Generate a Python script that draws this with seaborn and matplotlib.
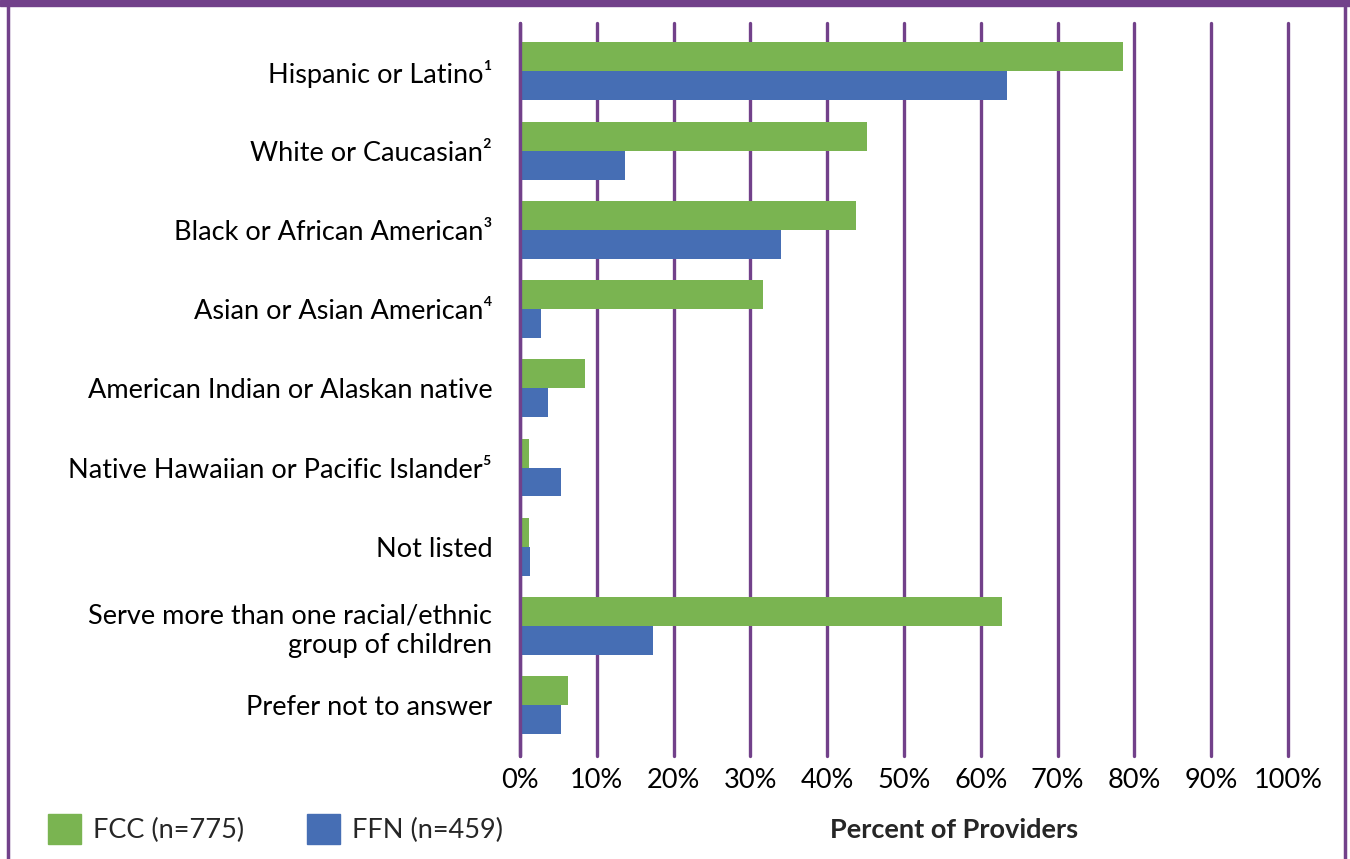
import matplotlib
matplotlib.use("Agg")
import matplotlib.pyplot as plt
import seaborn as sns
import pandas as pd
from matplotlib.lines import Line2D
from matplotlib.patches import Rectangle

categories = [
    "Hispanic or Latino¹",
    "White or Caucasian²",
    "Black or African American³",
    "Asian or Asian American⁴",
    "American Indian or Alaskan native",
    "Native Hawaiian or Pacific Islander⁵",
    "Not listed",
    "Serve more than one racial/ethnic\ngroup of children",
    "Prefer not to answer",
]
fcc_values = [78.5, 45.2, 43.7, 31.6, 8.5, 1.2, 1.2, 62.7, 6.2]
ffn_values = [63.4, 13.7, 34.0, 2.7, 3.6, 5.4, 1.3, 17.3, 5.4]
series_names = ["FCC (n=775)", "FFN (n=459)"]
tick_values = list(range(0, 101, 10))
tick_labels = [f"{v}%" for v in tick_values]

GREEN = "#7AB451"
BLUE = "#466EB4"
PURPLE = "#72418A"

df = pd.DataFrame({
    "category": categories * 2,
    "value": fcc_values + ffn_values,
    "series": [series_names[0]] * len(categories) + [series_names[1]] * len(categories),
})

sns.set_theme(style="white")
plt.rcParams["font.family"] = ["Lato", "DejaVu Sans"]

fig = plt.figure(figsize=(13.5, 8.59), dpi=100)
ax = fig.add_axes([520 / 1350, 1 - 756 / 859, 768 / 1350, 733 / 859])

sns.barplot(data=df, y="category", x="value", hue="series", orient="h",
            palette=[GREEN, BLUE], saturation=1, width=0.73, ax=ax,
            order=categories, hue_order=series_names, errorbar=None,
            linewidth=0, edgecolor="none")

ax.set_xlim(0, 100)
ax.set_ylim(8.64, -0.61)
ax.set_xticks(tick_values)
ax.set_xticklabels(tick_labels, fontsize=19.5, color="black")
ax.tick_params(axis="y", labelsize=19.5, colors="black", length=0, pad=20)
ax.tick_params(axis="x", length=0, pad=9)
ax.set_xlabel("")
ax.set_ylabel("")
for s in ax.spines.values():
    s.set_visible(False)
ax.set_axisbelow(True)
ax.grid(axis="x", color=PURPLE, linewidth=2.4)
ax.grid(axis="y", visible=False)
for gl in ax.get_xgridlines():
    gl.set_clip_on(False)
zl = ax.axvline(0, color=PURPLE, linewidth=2.4, zorder=3)
zl.set_clip_on(False)

handles = [Rectangle((0, 0), 1, 1, color=GREEN), Rectangle((0, 0), 1, 1, color=BLUE)]
ax.legend(handles, series_names, loc="center left",
          bbox_to_anchor=(48 / 1350, 1 - 829 / 859), bbox_transform=fig.transFigure,
          ncol=2, frameon=False, fontsize=19.5, handlelength=1.2, handleheight=1.3,
          handletextpad=0.45, columnspacing=2.35, borderpad=0, borderaxespad=0)

fig.text(954 / 1350, 1 - 830 / 859, "Percent of Providers", ha="center", va="center",
         fontsize=19.5, fontweight="bold")

# frame decoration
fig.add_artist(Rectangle((0, 1 - 6 / 859), 1, 6 / 859, transform=fig.transFigure,
                         color=PURPLE, zorder=10))
fig.add_artist(Line2D([7.5 / 1350, 7.5 / 1350], [0, 1], transform=fig.transFigure,
                      color=PURPLE, linewidth=2.5))
fig.add_artist(Line2D([1344.5 / 1350, 1344.5 / 1350], [0, 1], transform=fig.transFigure,
                      color=PURPLE, linewidth=2.5))

fig.savefig("out.png", dpi=100)
